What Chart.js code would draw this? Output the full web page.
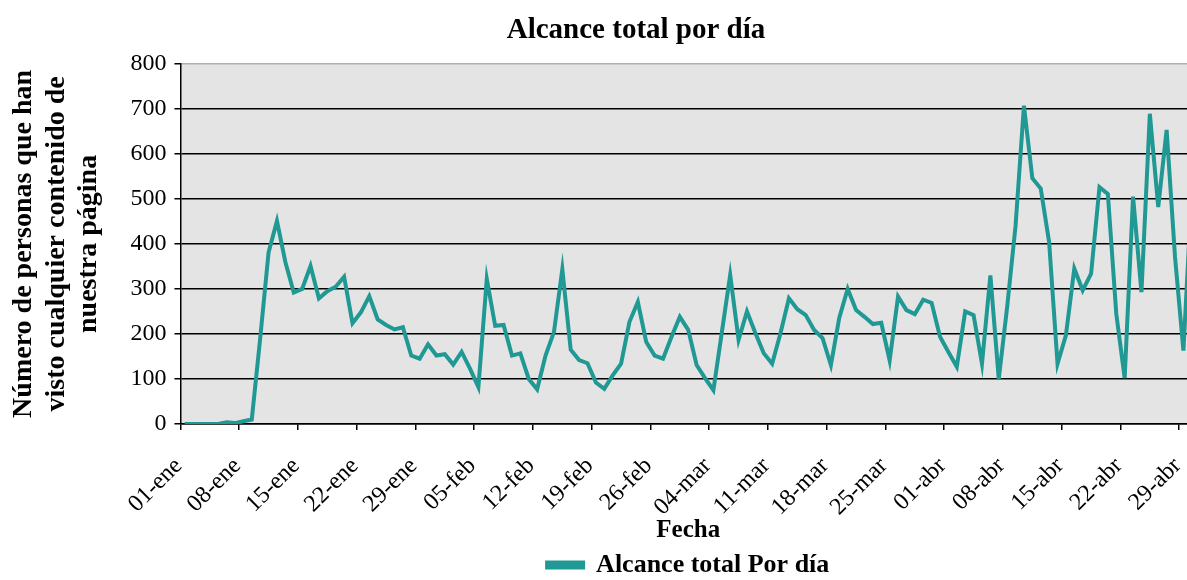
<!DOCTYPE html>
<html>
<head>
<meta charset="utf-8">
<script src="https://cdn.jsdelivr.net/npm/chart.js@4.4.0/dist/chart.umd.min.js"></script>
<style>
  html, body { margin: 0; padding: 0; background: #fff; overflow: hidden; }
  #wrap { position: absolute; left: 0; top: 0; }
</style>
</head>
<body>
<div id="wrap"><canvas id="line-chart" width="1264" height="580"></canvas></div>
<script>
// 2012: enero - abril, un punto por día
var monthNames = ['ene', 'feb', 'mar', 'abr'];
var monthDays = [31, 29, 31, 30];

var alcance = [
  0, 0, 0, 0, 0, 4, 2, 6, 10, 190,
  381, 451, 360, 292, 300, 351, 279, 295, 305, 327,
  224, 248, 284, 232, 220, 210, 215, 152, 145, 177,
  152, 155, 132, 160, 123, 82, 322, 218, 220, 152,
  157, 100, 77, 152, 204, 344, 165, 142, 135, 92,
  78, 108, 134, 227, 271, 182, 152, 145, 193, 238,
  209, 131, 102, 75, 203, 331, 187, 250, 202, 157,
  134, 202, 279, 255, 242, 209, 191, 131, 236, 300,
  253, 238, 222, 225, 141, 283, 253, 244, 276, 269,
  194, 160, 127, 250, 242, 134, 330, 100, 260, 440,
  707, 546, 523, 404, 134, 197, 345, 297, 334, 526,
  511, 245, 102, 505, 293, 689, 482, 653, 371, 163,
  520
];

var yMin = 0, yMax = 800, yStep = 100;
var tickEvery = 7;

var fechas = [];
for (var m = 0; m < monthNames.length; m++) {
  for (var d = 1; d <= monthDays[m]; d++) {
    fechas.push((d < 10 ? '0' : '') + d + '-' + monthNames[m]);
  }
}

var serif = "'Liberation Serif', 'Times New Roman', serif";
var teal = '#209893';

// fondo gris del área de trazado
var plotBg = {
  id: 'plotBg',
  beforeDraw: function(chart) {
    var a = chart.chartArea, c = chart.ctx;
    c.save();
    c.fillStyle = '#e4e4e4';
    c.fillRect(a.left, a.top, a.right - a.left, a.bottom - a.top);
    c.restore();
  }
};

var ctx = document.getElementById('line-chart');

new Chart(ctx, {
  type: 'line',
  data: {
    labels: fechas,
    datasets: [{
      label: 'Alcance total Por día',
      data: alcance,
      borderColor: teal,
      backgroundColor: teal,
      borderWidth: 4,
      pointRadius: 0,
      tension: 0
    }]
  },
  options: {
    responsive: false,
    animation: false,
    devicePixelRatio: 1,
    layout: { padding: { left: 8, right: 0, top: 0, bottom: -8 } },
    plugins: {
      title: {
        display: true,
        text: 'Alcance total por día',
        color: '#000',
        font: { family: serif, size: 29, weight: 'bold' },
        padding: { top: 13, bottom: 16 }
      },
      legend: {
        position: 'bottom',
        fullSize: false,
        labels: {
          color: '#000',
          boxWidth: 36,
          boxHeight: 5,
          padding: 3,
          font: { family: serif, size: 26, weight: 'bold' }
        }
      },
      tooltip: { enabled: false }
    },
    scales: {
      x: {
        offset: true,
        afterFit: function(s) { s.height = 125; },
        grid: {
          offset: true,
          drawOnChartArea: false,
          tickLength: 6,
          lineWidth: 1.5,
          tickColor: function(c) { return c.index % tickEvery === 0 ? '#000' : 'rgba(0,0,0,0)'; }
        },
        border: { color: '#000', width: 1.5 },
        ticks: {
          autoSkip: false,
          minRotation: 45,
          maxRotation: 45,
          padding: 22,
          labelOffset: -6,
          color: '#000',
          font: { family: serif, size: 24 },
          callback: function(v, i) { return i % tickEvery === 0 ? fechas[i] : ''; }
        },
        title: {
          display: true,
          text: 'Fecha',
          color: '#000',
          font: { family: serif, size: 25, weight: 'bold' },
          padding: { top: 0, bottom: 3 }
        }
      },
      y: {
        min: yMin,
        max: yMax,
        grid: {
          color: function(c) { return c.tick && c.tick.value === yMax ? '#b0b0b0' : '#000'; },
          tickColor: '#000',
          lineWidth: 1.5,
          tickLength: 6
        },
        border: { color: '#000', width: 1.5 },
        ticks: {
          stepSize: yStep,
          padding: 8,
          color: '#000',
          font: { family: serif, size: 24 }
        },
        title: {
          display: true,
          text: ['Número de personas que han', 'visto cualquier contenido de', 'nuestra página'],
          color: '#000',
          font: { family: serif, size: 28, weight: 'bold', lineHeight: 1.16 },
          padding: { top: 0, bottom: 17 }
        }
      },
      // margen derecho invisible para centrar el título como en el original
      yPad: {
        position: 'right',
        display: true,
        grid: { display: false },
        border: { display: false },
        ticks: { display: false },
        afterFit: function(s) { s.width = 68; }
      }
    }
  },
  plugins: [plotBg]
});
</script>
</body>
</html>
